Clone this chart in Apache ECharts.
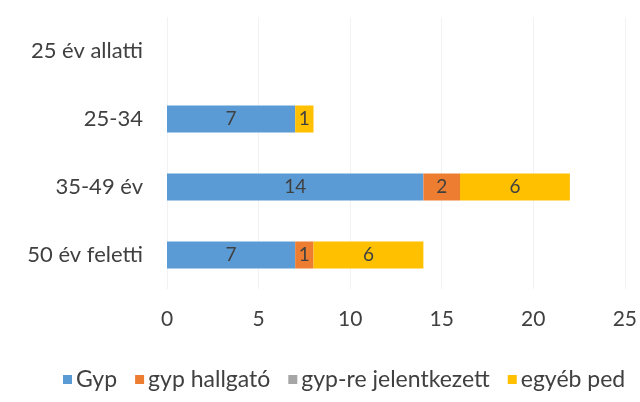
<!DOCTYPE html>
<html>
<head>
<meta charset="utf-8">
<script src="https://cdn.jsdelivr.net/npm/echarts@6/dist/echarts.min.js"></script>
<style>
  html, body { margin: 0; padding: 0; background: #fff; }
  #chart { width: 640px; height: 402px; }
</style>
</head>
<body>
<div id="chart"></div>
<script>
const categories = ['50 év feletti', '35-49 év', '25-34', '25 év allatti']
const seriesNames = ['Gyp', 'gyp hallgató', 'gyp-re jelentkezett', 'egyéb ped']
const gypData = [7, 14, 7, null]
const hallgatoData = [1, 2, null, null]
const jelentkezettData = [null, null, null, null]
const egyebData = [6, 6, 1, null]
const colors = ['#5B9BD5', '#ED7D31', '#A5A5A5', '#FFC000']

const FONT = 'Lato, "Open Sans", sans-serif'

const chart = echarts.init(document.getElementById('chart'))

function barSeries(name, data, color) {
  return {
    name: name,
    type: 'bar',
    stack: 'total',
    data: data,
    barWidth: 27,
    itemStyle: { color: color },
    label: {
      show: true,
      position: 'inside',
      color: '#404040',
      fontFamily: FONT,
      fontSize: 19
    }
  }
}

chart.setOption({
  animation: false,
  textStyle: { fontFamily: FONT },
  grid: {
    left: 167,
    right: 13,
    top: 17,
    bottom: 113,
    containLabel: false
  },
  legend: {
    top: 363,
    left: 58,
    icon: 'rect',
    itemWidth: 9,
    itemHeight: 9,
    itemGap: 18,
    textStyle: { color: '#404040', fontSize: 23, fontFamily: FONT, padding: [0, 0, 0, -1] },
    data: seriesNames
  },
  xAxis: {
    type: 'value',
    min: 0,
    max: 25,
    interval: 5,
    axisLine: { show: false },
    axisTick: { show: false },
    splitLine: { lineStyle: { color: '#f2f2f2' } },
    axisLabel: { color: '#404040', fontSize: 21, margin: 20, fontFamily: FONT }
  },
  yAxis: {
    type: 'category',
    data: categories,
    axisLine: { show: false },
    axisTick: { show: false },
    axisLabel: { color: '#404040', fontSize: 22, margin: 24, fontFamily: FONT }
  },
  series: [
    barSeries(seriesNames[0], gypData, colors[0]),
    barSeries(seriesNames[1], hallgatoData, colors[1]),
    barSeries(seriesNames[2], jelentkezettData, colors[2]),
    barSeries(seriesNames[3], egyebData, colors[3])
  ]
})
</script>
</body>
</html>
